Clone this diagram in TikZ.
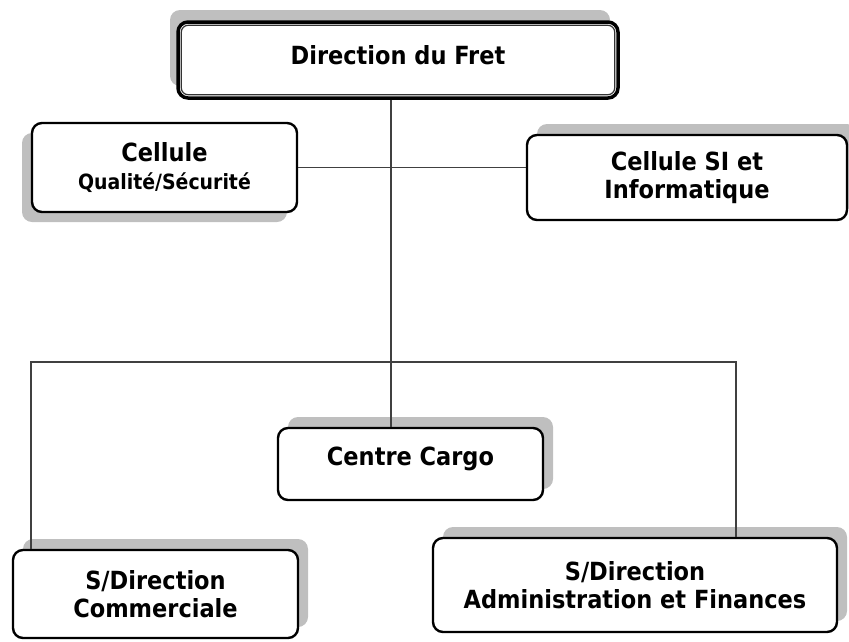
\documentclass[tikz,border=0pt]{standalone}
\usepackage{fontspec}
\setmainfont{DejaVu Sans Condensed}
\usetikzlibrary{shadows}

\begin{document}
\begin{tikzpicture}[x=1pt, y=-1pt,
  box/.style={draw=black, line width=2.4pt, rounded corners=10pt, fill=white, align=center, font=\bfseries\fontsize{25}{28}\selectfont, inner sep=0pt},
  shur/.style={drop shadow={shadow xshift=10pt, shadow yshift=11pt, fill=black!25, opacity=1}},
  shul/.style={drop shadow={shadow xshift=-8pt, shadow yshift=12pt, fill=black!25, opacity=1}},
  shdl/.style={drop shadow={shadow xshift=-10pt, shadow yshift=-10pt, fill=black!25, opacity=1}},
  link/.style={draw=black!75, line width=1.6pt}]
\useasboundingbox (0,0) rectangle (849,641);
\node[box, shul, line width=3.5pt, minimum width=440pt, minimum height=76pt, text depth=11pt] (top) at (398,60) {Direction du Fret};
\draw[black!80, line width=1.2pt, rounded corners=7pt] ([xshift=5pt,yshift=-5pt]top.north west) rectangle ([xshift=-5pt,yshift=5pt]top.south east);
\node[box, shdl, minimum width=265pt, minimum height=89pt] (qual) at (164.5,167.5) {Cellule\\{\fontsize{21}{26}\selectfont Qualité/Sécurité}};
\node[box, shur, minimum width=320pt, minimum height=85pt] (si) at (687,177.5) {Cellule SI et\\Informatique};
\node[box, shur, minimum width=265pt, minimum height=72pt, text depth=15pt] (cargo) at (410.5,464) {Centre Cargo};
\node[box, shur, minimum width=285pt, minimum height=88pt] (comm) at (155.5,594) {S/Direction\\Commerciale};
\node[box, shur, minimum width=404pt, minimum height=94pt] (admin) at (635,585) {S/Direction\\Administration et Finances};
% liaisons
\coordinate (spine) at (391,0);
\coordinate (busL) at (31,362);
\coordinate (busR) at (736,362);
\draw[link] (spine |- top.south) -- (spine |- cargo.north);
\draw[link] (qual.east) -- (qual.east -| si.west);
\draw[link] (busL |- comm.north) -- (busL) -- (busR) -- (busR |- admin.north);
\end{tikzpicture}
\end{document}
